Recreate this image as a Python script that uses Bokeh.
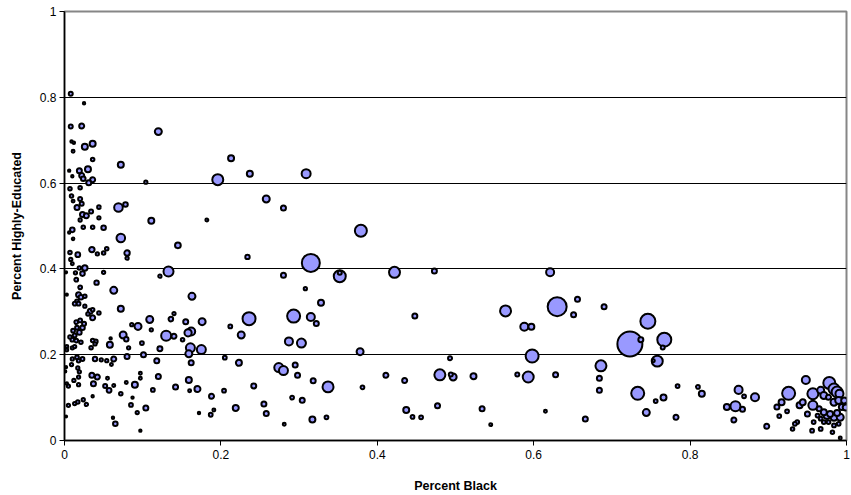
from bokeh.plotting import figure
from bokeh.models import ColumnDataSource, FixedTicker, Range1d
from bokeh.embed import file_html
from bokeh.resources import INLINE
import numpy as np

# Share of Black residents per area
pct_black = [
    0.008, 0.025, 0.008, 0.022, 0.009, 0.012, 0.026, 0.036, 0.011, 0.036,
    0.072, 0.006, 0.019, 0.030, 0.010, 0.022, 0.024, 0.036, 0.031, 0.104,
    0.007, 0.020, 0.009, 0.011, 0.020, 0.016, 0.022, 0.044, 0.069, 0.078,
    0.023, 0.028, 0.034, 0.020, 0.044, 0.111, 0.010, 0.006, 0.011, 0.024,
    0.036, 0.050, 0.072, 0.145, 0.007, 0.017, 0.035, 0.042, 0.050, 0.054,
    0.080, 0.080, 0.008, 0.010, 0.026, 0.019, 0.023, 0.014, 0.002, 0.050,
    0.015, 0.041, 0.063, 0.020, 0.003, 0.018, 0.021, 0.026, 0.016, 0.013,
    0.018, 0.026, 0.036, 0.033, 0.030, 0.036, 0.044, 0.072, 0.015, 0.020,
    0.025, 0.023, 0.016, 0.011, 0.019, 0.013, 0.007, 0.010, 0.015, 0.021,
    0.075, 0.079, 0.058, 0.059, 0.036, 0.040, 0.034, 0.039, 0.003, 0.010,
    0.013, 0.003, 0.016, 0.023, 0.018, 0.010, 0.039, 0.047, 0.063, 0.080,
    0.054, 0.060, 0.002, 0.001, 0.009, 0.017, 0.019, 0.035, 0.042, 0.037,
    0.055, 0.052, 0.057, 0.063, 0.072, 0.079, 0.018, 0.012, 0.003, 0.005,
    0.018, 0.036, 0.024, 0.017, 0.013, 0.005, 0.028, 0.085, 0.002, 0.062,
    0.065, 0.097,
    0.120, 0.213, 0.237, 0.196, 0.309, 0.258, 0.280, 0.182, 0.379, 0.234,
    0.315, 0.280, 0.352, 0.352, 0.422, 0.133, 0.122, 0.163, 0.140, 0.136,
    0.109, 0.094, 0.086, 0.111, 0.155, 0.130, 0.140, 0.158, 0.162, 0.151,
    0.161, 0.159, 0.162, 0.099, 0.122, 0.082, 0.101, 0.118, 0.097, 0.097,
    0.120, 0.090, 0.113, 0.142, 0.159, 0.160, 0.170, 0.087, 0.104, 0.093,
    0.172, 0.187, 0.191, 0.188, 0.204, 0.308, 0.328, 0.176, 0.212, 0.236,
    0.226, 0.293, 0.315, 0.322, 0.287, 0.303, 0.378, 0.175, 0.205, 0.223,
    0.274, 0.280, 0.295, 0.298, 0.318, 0.337, 0.381, 0.411, 0.435, 0.437,
    0.242, 0.219, 0.255, 0.258, 0.291, 0.304, 0.317, 0.335, 0.281,
    0.473, 0.621, 0.448, 0.564, 0.630, 0.656, 0.651, 0.690, 0.588, 0.597,
    0.746, 0.723, 0.737, 0.598, 0.493, 0.686, 0.684, 0.684, 0.733, 0.744,
    0.480, 0.494, 0.497, 0.523, 0.579, 0.593, 0.628, 0.445, 0.456, 0.477,
    0.534, 0.545, 0.615, 0.666, 0.767, 0.765, 0.758, 0.753, 0.766, 0.756,
    0.784, 0.810, 0.815, 0.782,
    0.862, 0.869, 0.858, 0.847, 0.867, 0.856, 0.883, 0.898, 0.948, 0.926,
    0.917, 0.911, 0.924, 0.914, 0.937, 0.934, 0.931, 0.940, 0.944, 0.957,
    0.957, 0.967, 0.978, 0.971, 0.984, 0.988, 0.991, 0.984, 0.990, 0.977,
    0.994, 0.971, 0.975, 0.979, 0.984, 0.988, 0.992, 0.967, 0.958, 0.971,
    0.977, 0.956, 0.967, 0.982, 0.992, 0.984, 0.990, 0.965, 0.963, 0.997,
    0.999, 0.950,
]

# Share of highly-educated adults per area
pct_educated = [
    0.808, 0.786, 0.732, 0.733, 0.697, 0.694, 0.685, 0.692, 0.674, 0.655,
    0.643, 0.629, 0.629, 0.632, 0.616, 0.618, 0.610, 0.608, 0.601, 0.602,
    0.587, 0.589, 0.570, 0.558, 0.563, 0.543, 0.552, 0.544, 0.543, 0.550,
    0.527, 0.524, 0.534, 0.514, 0.519, 0.512, 0.491, 0.485, 0.470, 0.497,
    0.497, 0.496, 0.472, 0.455, 0.438, 0.433, 0.445, 0.435, 0.437, 0.447,
    0.437, 0.425, 0.422, 0.412, 0.402, 0.402, 0.389, 0.391, 0.392, 0.392,
    0.375, 0.368, 0.350, 0.357, 0.340, 0.340, 0.334, 0.336, 0.324, 0.319,
    0.319, 0.313, 0.305, 0.301, 0.295, 0.286, 0.297, 0.307, 0.276, 0.280,
    0.272, 0.263, 0.263, 0.256, 0.252, 0.245, 0.241, 0.235, 0.233, 0.229,
    0.246, 0.236, 0.223, 0.238, 0.233, 0.231, 0.216, 0.225, 0.219, 0.216,
    0.219, 0.211, 0.194, 0.190, 0.186, 0.190, 0.190, 0.188, 0.190, 0.196,
    0.186, 0.177, 0.171, 0.161, 0.177, 0.169, 0.160, 0.152, 0.148, 0.132,
    0.145, 0.127, 0.117, 0.128, 0.109, 0.135, 0.148, 0.140, 0.133, 0.127,
    0.130, 0.103, 0.095, 0.090, 0.086, 0.082, 0.084, 0.083, 0.056, 0.053,
    0.039, 0.023,
    0.720, 0.658, 0.622, 0.608, 0.622, 0.563, 0.542, 0.514, 0.489, 0.428,
    0.414, 0.385, 0.383, 0.391, 0.392, 0.394, 0.383, 0.336, 0.296, 0.283,
    0.282, 0.266, 0.270, 0.258, 0.277, 0.244, 0.243, 0.251, 0.254, 0.235,
    0.216, 0.202, 0.181, 0.227, 0.214, 0.216, 0.200, 0.186, 0.157, 0.145,
    0.149, 0.130, 0.118, 0.125, 0.141, 0.116, 0.120, 0.100, 0.076, 0.065,
    0.064, 0.060, 0.071, 0.103, 0.116, 0.354, 0.321, 0.277, 0.266, 0.284,
    0.246, 0.290, 0.288, 0.273, 0.231, 0.227, 0.207, 0.212, 0.193, 0.181,
    0.170, 0.163, 0.176, 0.152, 0.139, 0.125, 0.124, 0.152, 0.140, 0.071,
    0.127, 0.076, 0.085, 0.063, 0.100, 0.094, 0.049, 0.054, 0.038,
    0.395, 0.392, 0.290, 0.302, 0.312, 0.329, 0.293, 0.312, 0.265, 0.265,
    0.278, 0.225, 0.235, 0.197, 0.192, 0.174, 0.145, 0.117, 0.110, 0.065,
    0.153, 0.154, 0.148, 0.150, 0.154, 0.148, 0.153, 0.055, 0.054, 0.081,
    0.074, 0.037, 0.068, 0.050, 0.235, 0.217, 0.185, 0.186, 0.100, 0.092,
    0.127, 0.125, 0.109, 0.054,
    0.118, 0.103, 0.080, 0.078, 0.073, 0.048, 0.101, 0.033, 0.141, 0.110,
    0.089, 0.078, 0.068, 0.057, 0.043, 0.039, 0.027, 0.082, 0.089, 0.109,
    0.082, 0.117, 0.134, 0.105, 0.120, 0.113, 0.109, 0.089, 0.093, 0.101,
    0.078, 0.066, 0.058, 0.062, 0.054, 0.064, 0.054, 0.051, 0.043, 0.043,
    0.043, 0.023, 0.027, 0.019, 0.006, 0.035, 0.039, 0.074, 0.058, 0.093,
    0.077, 0.062,
]

# Population of each area, thousands (bubble area)
population_k = [
    14, 3, 14, 25, 3, 3, 39, 39, 6, 10,
    39, 3, 25, 39, 3, 25, 20, 25, 25, 8,
    10, 10, 10, 6, 14, 25, 14, 10, 90, 20,
    25, 25, 14, 8, 8, 39, 20, 3, 4, 10,
    10, 20, 90, 35, 10, 22, 30, 8, 10, 10,
    30, 8, 8, 6, 30, 10, 20, 8, 2, 8,
    12, 18, 56, 12, 2, 25, 20, 10, 12, 12,
    12, 8, 10, 25, 10, 25, 10, 39, 12, 12,
    14, 20, 12, 12, 20, 12, 10, 12, 12, 10,
    56, 18, 39, 3, 10, 12, 10, 8, 6, 8,
    8, 6, 12, 12, 10, 8, 18, 8, 25, 25,
    8, 6, 2, 2, 8, 8, 8, 25, 25, 25,
    6, 14, 22, 6, 10, 6, 8, 8, 3, 8,
    8, 3, 8, 10, 8, 8, 8, 12, 2, 3,
    20, 3,
    56, 39, 39, 156, 100, 56, 25, 6, 189, 18,
    452, 25, 189, 14, 156, 127, 8, 56, 8, 20,
    56, 56, 8, 8, 25, 127, 25, 60, 77, 10,
    100, 56, 25, 12, 25, 8, 25, 25, 6, 6,
    25, 39, 12, 25, 39, 6, 39, 3, 25, 8,
    3, 12, 6, 25, 12, 8, 39, 56, 12, 225,
    56, 225, 77, 25, 77, 100, 56, 100, 12, 39,
    100, 100, 25, 25, 25, 156, 12, 25, 25, 39,
    25, 39, 25, 25, 12, 25, 39, 12, 6,
    25, 77, 25, 156, 506, 25, 25, 25, 77, 39,
    306, 900, 25, 225, 14, 156, 25, 25, 225, 56,
    156, 14, 56, 39, 14, 156, 25, 12, 12, 25,
    25, 6, 6, 25, 264, 14, 156, 6, 39, 12,
    12, 12, 39, 25,
    77, 12, 127, 39, 25, 25, 77, 25, 77, 225,
    39, 25, 12, 12, 12, 12, 10, 39, 39, 156,
    100, 56, 189, 56, 156, 156, 77, 56, 56, 25,
    39, 39, 56, 39, 56, 39, 56, 12, 12, 12,
    12, 12, 12, 10, 6, 12, 12, 25, 12, 39,
    39, 25,
]

y_tick_values = [0, 0.2, 0.4, 0.6, 0.8, 1]
y_tick_labels = ["0", "0.2", "0.4", "0.6", "0.8", "1"]
x_tick_values = [0, 0.2, 0.4, 0.6, 0.8, 1]
x_tick_labels = ["0", "0.2", "0.4", "0.6", "0.8", "1"]

pop = np.array(population_k, dtype=float)
order = np.argsort(-pop, kind="stable")  # big bubbles underneath small ones
source = ColumnDataSource(dict(
    x=np.array(pct_black)[order],
    y=np.array(pct_educated)[order],
    size=0.8 * np.sqrt(pop[order]) + 1.0,
))

FONT = "Liberation Sans"

p = figure(
    width=851, height=495,
    x_range=Range1d(0, 1), y_range=Range1d(0, 1),
    output_backend="svg", toolbar_location=None,
    min_border_left=64, min_border_right=5,
    min_border_top=11, min_border_bottom=55,
    background_fill_color="white", border_fill_color="white",
)

p.outline_line_color = "#868686"
p.outline_line_width = 2

p.scatter("x", "y", source=source, size="size", marker="circle",
          fill_color="#9999FF", line_color="black", line_width=2)

# axes
for ax, vals, labels in ((p.xaxis[0], x_tick_values, x_tick_labels),
                         (p.yaxis[0], y_tick_values, y_tick_labels)):
    ax.ticker = FixedTicker(ticks=vals)
    ax.major_label_overrides = {v: l for v, l in zip(vals, labels)}
    ax.minor_tick_line_color = None
    ax.major_tick_in = 0
    ax.major_tick_out = 5
    ax.major_tick_line_color = "black"
    ax.major_tick_line_width = 1
    ax.axis_line_color = "black"
    ax.axis_line_width = 1.5
    ax.major_label_text_font = FONT
    ax.major_label_text_font_size = "12px"
    ax.major_label_text_color = "black"
    ax.axis_label_text_font = FONT
    ax.axis_label_text_font_size = "12.5px"
    ax.axis_label_text_font_style = "bold"
    ax.axis_label_text_color = "black"

p.xaxis.axis_label = "Percent Black"
p.yaxis.axis_label = "Percent Highly-Educated"
p.xaxis.major_label_standoff = 4
p.xaxis.axis_label_standoff = 17
p.yaxis.major_label_standoff = 3
p.yaxis.axis_label_standoff = 13

p.xgrid.grid_line_color = None
p.ygrid.ticker = FixedTicker(ticks=[0.2, 0.4, 0.6, 0.8])
p.ygrid.grid_line_color = "black"
p.ygrid.grid_line_width = 1

open("out.html", "w").write(file_html(p, INLINE))
